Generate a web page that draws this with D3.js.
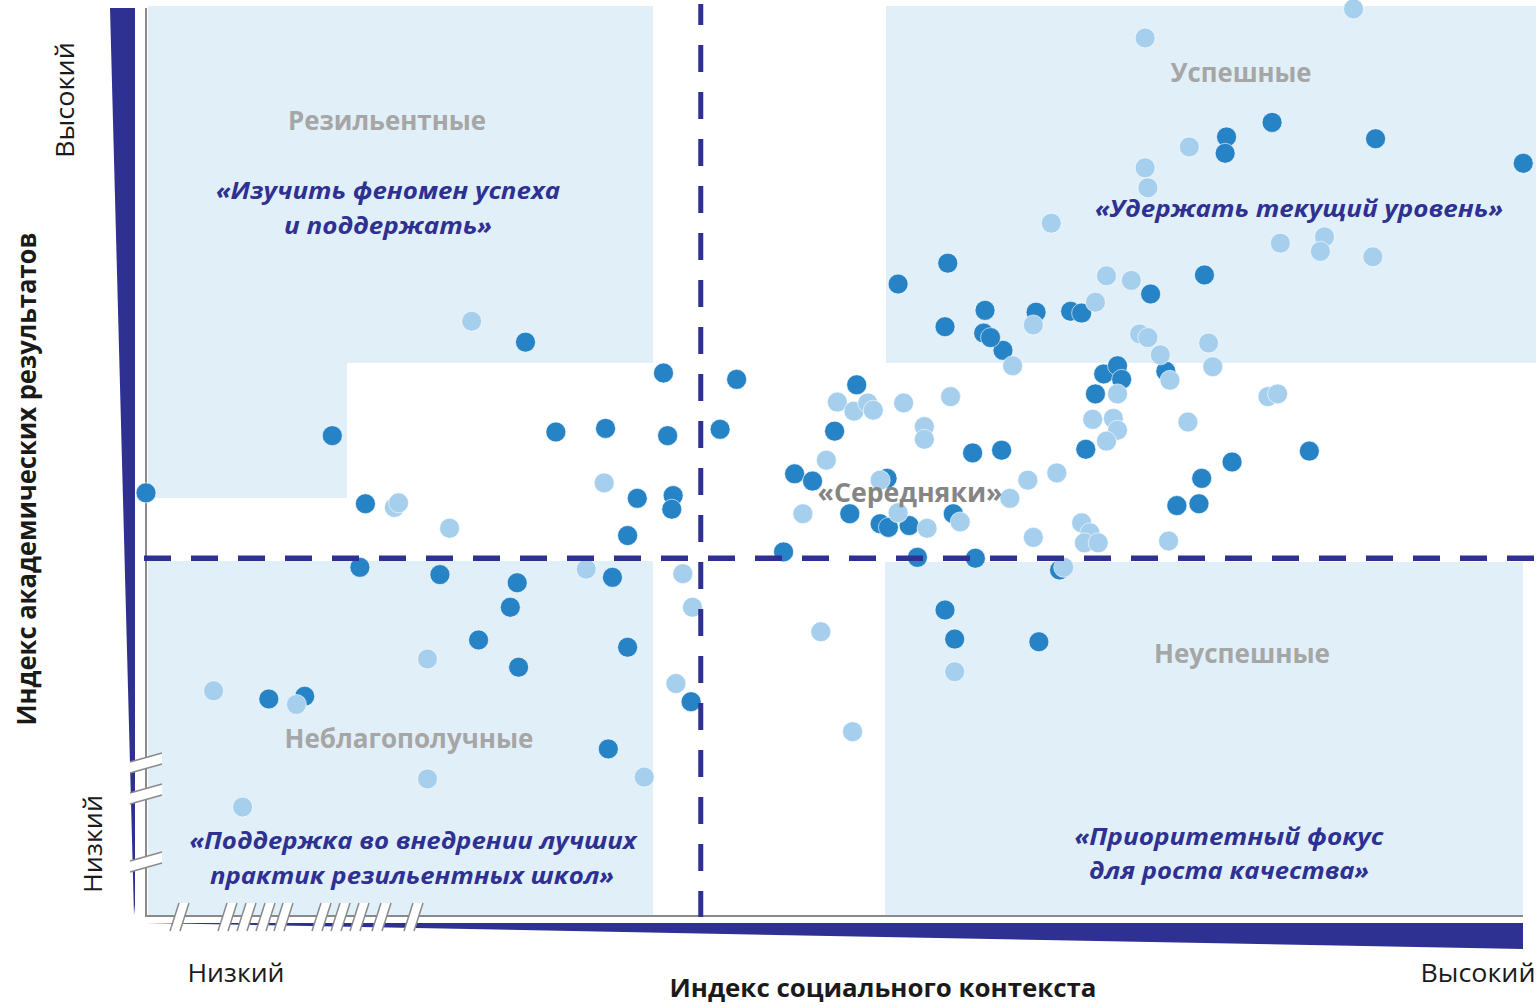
<!DOCTYPE html>
<html>
<head>
<meta charset="utf-8">
<script src="https://cdn.jsdelivr.net/npm/d3@7"></script>
<style>
  html, body { margin: 0; padding: 0; background: #fff; }
  svg { display: block; }
</style>
</head>
<body>
<svg id="chart" width="1539" height="1006"></svg>
<script>
// ---------- DATA (index units, 0..100) ----------
// Dark-blue schools: [social context index, academic results index]
const darkPoints = [
  [0.0,46.6],[13.5,52.9],[27.5,63.2],[15.9,45.4],[15.5,38.4],[21.3,37.6],[26.9,36.7],[26.4,34.0],
  [24.1,30.4],[27.0,27.4],[8.9,23.9],[11.5,24.2],[33.5,18.4],[33.8,37.3],[34.9,29.6],[39.5,23.6],
  [29.7,53.3],[33.3,53.7],[37.5,59.8],[37.8,52.9],[35.6,46.0],[38.2,46.3],[38.1,44.8],[34.9,41.9],
  [42.8,59.1],[41.6,53.6],[51.5,58.5],[49.9,53.4],[47.0,48.7],[48.3,47.9],[53.7,48.2],[59.9,51.0],
  [62.0,51.3],[51.0,44.3],[53.2,43.2],[53.8,42.8],[55.3,43.0],[58.5,44.3],[46.2,40.1],[55.9,39.5],
  [60.1,39.4],[66.2,38.1],[57.9,33.7],[58.6,30.5],[64.7,30.2],[68.8,57.5],[69.4,59.7],[70.4,60.6],
  [70.7,59.1],[68.1,51.4],[62.1,62.3],[73.9,60.0],[84.3,51.2],[78.7,50.0],[76.5,48.2],[74.7,45.2],
  [76.3,45.4],[78.3,85.8],[78.2,84.0],[81.6,87.4],[89.1,85.6],[99.8,82.9],[58.1,71.9],[54.5,69.6],
  [76.7,70.6],[72.8,68.5],[60.8,66.7],[64.5,66.5],[67.0,66.6],[67.8,66.4],[57.9,64.9],[60.7,64.2],
  [61.2,63.7]
];
// Light-blue schools
const lightPoints = [
  [23.6,65.5],[18.0,45.0],[18.3,45.5],[22.0,42.7],[33.2,47.7],[31.9,38.2],[38.9,37.7],[39.6,34.0],
  [20.4,28.3],[38.4,25.6],[4.9,24.8],[10.9,23.3],[36.1,15.3],[20.4,15.1],[7.0,12.0],[50.1,56.6],
  [51.3,55.6],[52.3,56.5],[52.7,55.7],[54.9,56.5],[58.3,57.2],[56.4,53.9],[56.4,52.5],[49.3,50.2],
  [53.2,48.0],[63.9,48.0],[66.0,48.8],[62.6,46.0],[47.6,44.3],[54.5,44.4],[56.6,42.7],[59.0,43.4],
  [64.3,41.7],[67.8,43.3],[68.4,42.2],[68.0,41.1],[69.0,41.1],[66.5,38.4],[70.4,57.5],[68.6,54.7],
  [70.1,54.8],[70.4,53.5],[69.6,52.3],[62.8,60.6],[72.0,64.1],[72.6,63.7],[73.5,61.8],[74.2,59.0],
  [77.0,63.1],[77.3,60.5],[75.5,54.4],[81.3,57.2],[82.0,57.5],[74.1,41.3],[48.9,31.3],[51.2,20.3],
  [58.6,26.9],[87.5,99.9],[72.4,96.7],[75.6,84.7],[72.4,82.4],[72.6,80.2],[65.6,76.3],[82.2,74.1],
  [85.4,74.8],[85.1,73.2],[88.9,72.6],[69.6,70.5],[71.4,70.0],[68.8,67.6],[64.3,65.1]
];
// Threshold values (dashed lines)
const xThreshold = 40.2;
const yThreshold = 39.4;

// Text
const xAxisTitle = "Индекс социального контекста";
const yAxisTitle = "Индекс академических результатов";
const lowLabel = "Низкий";
const highLabel = "Высокий";
const quadrantNames = ["Резильентные", "Успешные", "«Середняки»", "Неблагополучные", "Неуспешные"];
const quadrantActions = [
  ["«Изучить феномен успеха", "и поддержать»"],
  ["«Удержать текущий уровень»"],
  ["«Поддержка во внедрении лучших", "практик резильентных школ»"],
  ["«Приоритетный фокус", "для роста качества»"]
];

// ---------- LAYOUT ----------
const svg = d3.select("#chart");
const x = d3.scaleLinear().domain([0, 100]).range([146, 1526]);
const y = d3.scaleLinear().domain([0, 100]).range([916, 8]);

const NAVY = "#2e3192";
const SHADE = "#e1eff9";
const DARK = "#2684c6";
const LIGHT = "#a6cfee";

// shaded quadrant panels
const panels = [
  {x0: 148, x1: 653, y0: 6, y1: 363},
  {x0: 148, x1: 347, y0: 363, y1: 498},
  {x0: 148, x1: 653, y0: 561, y1: 916},
  {x0: 886, x1: 1536, y0: 6, y1: 363},
  {x0: 885, x1: 1523, y0: 562, y1: 916}
];
svg.append("g").selectAll("rect").data(panels).join("rect")
  .attr("x", d => d.x0).attr("y", d => d.y0)
  .attr("width", d => d.x1 - d.x0).attr("height", d => d.y1 - d.y0)
  .attr("fill", SHADE);

// wedges (axis direction arrows)
svg.append("polygon")
  .attr("points", "110,8 135,8 135,905 134,915")
  .attr("fill", NAVY);
svg.append("polygon")
  .attr("points", "146,923 1523,923 1523,949")
  .attr("fill", NAVY);

// gray axis lines
svg.append("line").attr("x1", 146).attr("x2", 146).attr("y1", 8).attr("y2", 917)
  .attr("stroke", "#8a8a8a").attr("stroke-width", 2);
svg.append("line").attr("x1", 145).attr("x2", 1523).attr("y1", 916).attr("y2", 916)
  .attr("stroke", "#8a8a8a").attr("stroke-width", 2);

// axis breaks
const breakG = svg.append("g");
const leftBreaks = [757, 788, 856];
leftBreaks.forEach(b => {
  breakG.append("polygon")
    .attr("points", `130,${b+5} 162,${b-4} 162,${b+7} 130,${b+16}`)
    .attr("fill", "#fff");
  [0, 11].forEach(o => breakG.append("line")
    .attr("x1", 130).attr("y1", b + 5 + o).attr("x2", 162).attr("y2", b - 4 + o)
    .attr("stroke", "#8a8a8a").attr("stroke-width", 1.5));
});
const bottomBreaks = [170, 218, 237, 256, 274, 312, 331, 350, 372, 404];
bottomBreaks.forEach(b => {
  breakG.append("polygon")
    .attr("points", `${b},931 ${b+9},903 ${b+19},903 ${b+10},931`)
    .attr("fill", "#fff");
  [0, 10].forEach(o => breakG.append("line")
    .attr("x1", b + o).attr("y1", 931).attr("x2", b + 9 + o).attr("y2", 903)
    .attr("stroke", "#8a8a8a").attr("stroke-width", 1.5));
});

// points
const ptG = svg.append("g");
ptG.selectAll("circle.dark").data(darkPoints).join("circle")
  .attr("class", "dark")
  .attr("cx", d => x(d[0])).attr("cy", d => y(d[1])).attr("r", 10)
  .attr("fill", DARK).attr("stroke", "#fff").attr("stroke-width", 0.6);
ptG.selectAll("circle.light").data(lightPoints).join("circle")
  .attr("class", "light")
  .attr("cx", d => x(d[0])).attr("cy", d => y(d[1])).attr("r", 10)
  .attr("fill", LIGHT).attr("stroke", "#fff").attr("stroke-width", 0.6);

// dashed threshold lines
svg.append("line")
  .attr("x1", x(xThreshold)).attr("x2", x(xThreshold)).attr("y1", 4).attr("y2", 917)
  .attr("stroke", NAVY).attr("stroke-width", 5)
  .attr("stroke-dasharray", "27 20").attr("stroke-dashoffset", 6);
svg.append("line")
  .attr("x1", 144).attr("x2", 1536).attr("y1", y(yThreshold)).attr("y2", y(yThreshold))
  .attr("stroke", NAVY).attr("stroke-width", 5.5)
  .attr("stroke-dasharray", "27 20");

// text helper
function label(txt, cx, by, opts) {
  const t = svg.append("text")
    .attr("x", cx).attr("y", by)
    .attr("text-anchor", "middle")
    .attr("font-family", "'Open Sans', 'Noto Sans', sans-serif")
    .attr("font-size", opts.size)
    .attr("font-weight", opts.weight || "normal")
    .attr("font-style", opts.style || "normal")
    .attr("fill", opts.fill)
    .text(txt);
  if (opts.len) t.attr("textLength", opts.len).attr("lengthAdjust", "spacingAndGlyphs");
  if (opts.rotate) t.attr("transform", `rotate(-90 ${cx} ${by})`);
  return t;
}

const GRAY = "#a6a6a6";
label(quadrantNames[0], 387, 130, {size: 26, weight: "bold", fill: GRAY, len: 198});
label(quadrantNames[1], 1241, 82, {size: 26, weight: "bold", fill: GRAY, len: 141});
label(quadrantNames[2], 910, 502, {size: 26, weight: "bold", fill: "#858585", len: 185});
label(quadrantNames[3], 409, 748, {size: 26, weight: "bold", fill: GRAY, len: 249});
label(quadrantNames[4], 1242, 663, {size: 26, weight: "bold", fill: GRAY, len: 176});

const actOpts = {size: 24, weight: "bold", style: "italic", fill: NAVY};
label(quadrantActions[0][0], 388, 199, {...actOpts, len: 344});
label(quadrantActions[0][1], 388, 234, {...actOpts, len: 208});
label(quadrantActions[1][0], 1299, 217, {...actOpts, len: 408});
label(quadrantActions[2][0], 413, 849, {...actOpts, len: 447});
label(quadrantActions[2][1], 412, 884, {...actOpts, len: 404});
label(quadrantActions[3][0], 1229, 845, {...actOpts, len: 309});
label(quadrantActions[3][1], 1229, 879, {...actOpts, len: 280});

// axis titles and end labels
label(xAxisTitle, 883, 997, {size: 25, weight: "bold", fill: "#1a1a1a", len: 427});
label(yAxisTitle, 36, 479, {size: 26, weight: "bold", fill: "#1a1a1a", len: 493, rotate: true});
label(lowLabel, 236, 982, {size: 26, fill: "#1a1a1a", len: 97});
label(highLabel, 1478, 982, {size: 26, fill: "#1a1a1a", len: 115});
label(highLabel, 74, 100, {size: 26, fill: "#1a1a1a", len: 116, rotate: true});
label(lowLabel, 102, 844, {size: 26, fill: "#1a1a1a", len: 98, rotate: true});
</script>
</body>
</html>
